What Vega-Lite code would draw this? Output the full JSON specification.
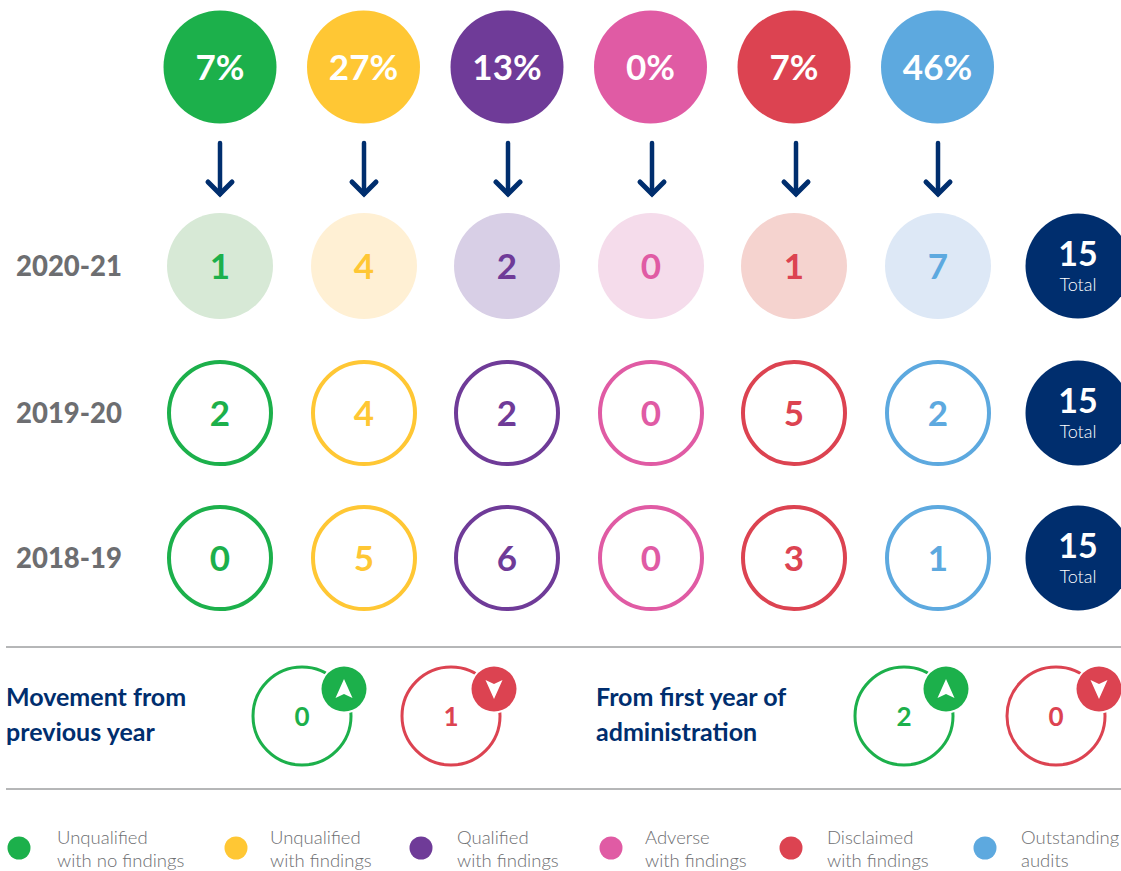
{"$schema":"https://vega.github.io/schema/vega-lite/v6.json","width":1121,"height":871,"padding":0,"autosize":{"type":"none"},"background":"white","config":{"view":{"stroke":null},"axis":{"disable":true},"legend":{"disable":true},"text":{"font":"Lato"}},"resolve":{"scale":{"x":"independent","y":"shared","color":"shared"}},
"datasets":{
"shares":[{"category":"Unqualified with no findings","column":1,"row":1,"label":"7%"},{"category":"Unqualified with findings","column":2,"row":1,"label":"27%"},{"category":"Qualified with findings","column":3,"row":1,"label":"13%"},{"category":"Adverse with findings","column":4,"row":1,"label":"0%"},{"category":"Disclaimed with findings","column":5,"row":1,"label":"7%"},{"category":"Outstanding audits","column":6,"row":1,"label":"46%"}],
"arrows":[{"column":1,"from":2,"to":3},{"column":2,"from":2,"to":3},{"column":3,"from":2,"to":3},{"column":4,"from":2,"to":3},{"column":5,"from":2,"to":3},{"column":6,"from":2,"to":3}],
"current":[{"period":"2020-21","category":"Unqualified with no findings","column":1,"row":4,"value":1},{"period":"2020-21","category":"Unqualified with findings","column":2,"row":4,"value":4},{"period":"2020-21","category":"Qualified with findings","column":3,"row":4,"value":2},{"period":"2020-21","category":"Adverse with findings","column":4,"row":4,"value":0},{"period":"2020-21","category":"Disclaimed with findings","column":5,"row":4,"value":1},{"period":"2020-21","category":"Outstanding audits","column":6,"row":4,"value":7}],
"past":[{"period":"2019-20","category":"Unqualified with no findings","column":1,"row":5,"value":2},{"period":"2019-20","category":"Unqualified with findings","column":2,"row":5,"value":4},{"period":"2019-20","category":"Qualified with findings","column":3,"row":5,"value":2},{"period":"2019-20","category":"Adverse with findings","column":4,"row":5,"value":0},{"period":"2019-20","category":"Disclaimed with findings","column":5,"row":5,"value":5},{"period":"2019-20","category":"Outstanding audits","column":6,"row":5,"value":2},{"period":"2018-19","category":"Unqualified with no findings","column":1,"row":6,"value":0},{"period":"2018-19","category":"Unqualified with findings","column":2,"row":6,"value":5},{"period":"2018-19","category":"Qualified with findings","column":3,"row":6,"value":6},{"period":"2018-19","category":"Adverse with findings","column":4,"row":6,"value":0},{"period":"2018-19","category":"Disclaimed with findings","column":5,"row":6,"value":3},{"period":"2018-19","category":"Outstanding audits","column":6,"row":6,"value":1}],
"totals":[{"period":"2020-21","column":7,"row":4,"value":15,"caption":"Total"},{"period":"2019-20","column":7,"row":5,"value":15,"caption":"Total"},{"period":"2018-19","column":7,"row":6,"value":15,"caption":"Total"}],
"dividers":[{"row":7},{"row":10}],
"sections":[{"slot":1,"row":9,"label":"Movement from\nprevious year"},{"slot":2,"row":9,"label":"From first year of\nadministration"}],
"movement":[{"slot":1,"row":9,"badgeRow":8,"category":"Improved","direction":"up","value":0},{"slot":2,"row":9,"badgeRow":8,"category":"Regressed","direction":"down","value":1},{"slot":3,"row":9,"badgeRow":8,"category":"Improved","direction":"up","value":2},{"slot":4,"row":9,"badgeRow":8,"category":"Regressed","direction":"down","value":0}],
"legend":[{"slot":1,"row":11,"category":"Unqualified with no findings","label":"Unqualified\nwith no findings"},{"slot":2,"row":11,"category":"Unqualified with findings","label":"Unqualified\nwith findings"},{"slot":3,"row":11,"category":"Qualified with findings","label":"Qualified\nwith findings"},{"slot":4,"row":11,"category":"Adverse with findings","label":"Adverse\nwith findings"},{"slot":5,"row":11,"category":"Disclaimed with findings","label":"Disclaimed\nwith findings"},{"slot":6,"row":11,"category":"Outstanding audits","label":"Outstanding\naudits"}]
},
"layer":[
{"data":{"name":"shares"},"mark":{"type":"point","filled":true,"opacity":1,"shape":"circle","size":12769},"encoding":{"x":{"field":"column","type":"quantitative","scale":{"domain":[1,2,3,4,5,6,7],"range":[220,363.5,507,650.5,794,937.5,1078]}},"y":{"field":"row","type":"quantitative","scale":{"domain":[1,2,3,4,5,6,7,8,9,10,11],"range":[67,143,194,266,413,558,647,689,716,789,848]}},"color":{"field":"category","type":"nominal","scale":{"domain":["Unqualified with no findings","Unqualified with findings","Qualified with findings","Adverse with findings","Disclaimed with findings","Outstanding audits","Improved","Regressed"],"range":["#1CB04B","#FFC734","#6F3B98","#E05BA4","#DC4351","#5DA9DF","#1CB04B","#DC4351"]}}}},
{"data":{"name":"shares"},"mark":{"type":"text","font":"Lato","fontWeight":"bold","fontSize":35,"fill":"white","baseline":"middle","dy":2},"encoding":{"x":{"field":"column","type":"quantitative","scale":{"domain":[1,2,3,4,5,6,7],"range":[220,363.5,507,650.5,794,937.5,1078]}},"y":{"field":"row","type":"quantitative"},"text":{"field":"label"}}},
{"data":{"name":"arrows"},"mark":{"type":"rule","stroke":"#002E6E","strokeWidth":4.5,"strokeCap":"round"},"encoding":{"x":{"field":"column","type":"quantitative","scale":{"domain":[1,2,3,4,5,6],"range":[220,364,508,652,796,938]}},"y":{"field":"from","type":"quantitative"},"y2":{"field":"to"}}},
{"data":{"name":"arrows"},"mark":{"type":"point","filled":false,"opacity":1,"stroke":"#002E6E","strokeWidth":5,"strokeJoin":"miter","strokeCap":"round","shape":"M-1,-1L0,0L1,-1","size":576},"encoding":{"x":{"field":"column","type":"quantitative","scale":{"domain":[1,2,3,4,5,6],"range":[220,364,508,652,796,938]}},"y":{"field":"to","type":"quantitative"}}},
{"data":{"name":"current"},"mark":{"type":"point","filled":true,"opacity":1,"shape":"circle","size":11236},"encoding":{"x":{"field":"column","type":"quantitative","scale":{"domain":[1,2,3,4,5,6,7],"range":[220,364,507,651,794,938,1078]}},"y":{"field":"row","type":"quantitative"},"fill":{"field":"category","type":"nominal","scale":{"domain":["Unqualified with no findings","Unqualified with findings","Qualified with findings","Adverse with findings","Disclaimed with findings","Outstanding audits"],"range":["#D7E9D6","#FFF0D4","#D8CFE6","#F5DCEB","#F5D3CF","#DDE8F6"]}}}},
{"data":{"name":"past"},"mark":{"type":"point","filled":false,"fill":"white","opacity":1,"strokeWidth":4,"shape":"circle","size":10404},"encoding":{"x":{"field":"column","type":"quantitative","scale":{"domain":[1,2,3,4,5,6,7],"range":[220,364,507,651,794,938,1078]}},"y":{"field":"row","type":"quantitative"},"color":{"field":"category","type":"nominal"}}},
{"data":{"name":"current"},"mark":{"type":"text","font":"Lato","fontWeight":"bold","fontSize":35,"baseline":"middle","dy":2},"encoding":{"x":{"field":"column","type":"quantitative","scale":{"domain":[1,2,3,4,5,6,7],"range":[220,364,507,651,794,938,1078]}},"y":{"field":"row","type":"quantitative"},"color":{"field":"category","type":"nominal"},"text":{"field":"value"}}},
{"data":{"name":"past"},"mark":{"type":"text","font":"Lato","fontWeight":"bold","fontSize":35,"baseline":"middle","dy":2},"encoding":{"x":{"field":"column","type":"quantitative","scale":{"domain":[1,2,3,4,5,6,7],"range":[220,364,507,651,794,938,1078]}},"y":{"field":"row","type":"quantitative"},"color":{"field":"category","type":"nominal"},"text":{"field":"value"}}},
{"data":{"name":"current"},"transform":[{"aggregate":[{"op":"min","field":"row","as":"row"}],"groupby":["period"]}],"mark":{"type":"text","font":"Lato","fontWeight":900,"fontSize":27.5,"fill":"#6D6E71","align":"left","baseline":"middle","dy":2},"encoding":{"x":{"datum":0,"type":"quantitative","scale":{"domain":[0,1],"range":[16,17]}},"y":{"field":"row","type":"quantitative"},"text":{"field":"period"}}},
{"data":{"name":"past"},"transform":[{"aggregate":[{"op":"min","field":"row","as":"row"}],"groupby":["period"]}],"mark":{"type":"text","font":"Lato","fontWeight":900,"fontSize":27.5,"fill":"#6D6E71","align":"left","baseline":"middle","dy":2},"encoding":{"x":{"datum":0,"type":"quantitative","scale":{"domain":[0,1],"range":[16,17]}},"y":{"field":"row","type":"quantitative"},"text":{"field":"period"}}},
{"data":{"name":"totals"},"mark":{"type":"point","filled":true,"opacity":1,"fill":"#002E6E","shape":"circle","size":11025},"encoding":{"x":{"field":"column","type":"quantitative","scale":{"domain":[1,7],"range":[220,1078]}},"y":{"field":"row","type":"quantitative"}}},
{"data":{"name":"totals"},"mark":{"type":"text","font":"Lato","fontWeight":"bold","fontSize":34,"fill":"white","baseline":"middle","dy":-10},"encoding":{"x":{"field":"column","type":"quantitative","scale":{"domain":[1,7],"range":[220,1078]}},"y":{"field":"row","type":"quantitative"},"text":{"field":"value"}}},
{"data":{"name":"totals"},"mark":{"type":"text","font":"Lato","fontWeight":300,"fontSize":18,"fill":"white","baseline":"middle","dy":20},"encoding":{"x":{"field":"column","type":"quantitative","scale":{"domain":[1,7],"range":[220,1078]}},"y":{"field":"row","type":"quantitative"},"text":{"field":"caption"}}},
{"data":{"name":"dividers"},"mark":{"type":"rule","stroke":"#6D6E71","strokeWidth":1},"encoding":{"x":{"datum":0,"type":"quantitative","scale":{"domain":[0,1],"range":[6,1121]}},"x2":{"datum":1},"y":{"field":"row","type":"quantitative"}}},
{"data":{"name":"sections"},"mark":{"type":"text","font":"Lato","fontWeight":"bold","fontSize":25,"fill":"#002E6E","align":"left","baseline":"middle","lineBreak":"\n","lineHeight":35,"dy":-18},"encoding":{"x":{"field":"slot","type":"quantitative","scale":{"domain":[1,2],"range":[6,596]}},"y":{"field":"row","type":"quantitative"},"text":{"field":"label"}}},
{"data":{"name":"movement"},"mark":{"type":"point","filled":false,"opacity":1,"strokeWidth":3,"shape":"circle","size":9604},"encoding":{"x":{"field":"slot","type":"quantitative","scale":{"domain":[1,2,3,4],"range":[302,451,904,1056]}},"y":{"field":"row","type":"quantitative"},"color":{"field":"category","type":"nominal"}}},
{"data":{"name":"movement"},"mark":{"type":"text","font":"Lato","fontWeight":"bold","fontSize":26,"baseline":"middle","dy":2},"encoding":{"x":{"field":"slot","type":"quantitative","scale":{"domain":[1,2,3,4],"range":[302,451,904,1056]}},"y":{"field":"row","type":"quantitative"},"color":{"field":"category","type":"nominal"},"text":{"field":"value"}}},
{"data":{"name":"movement"},"mark":{"type":"point","filled":false,"opacity":1,"fill":"white","stroke":"white","strokeWidth":3,"shape":"circle","size":2116},"encoding":{"x":{"field":"slot","type":"quantitative","scale":{"domain":[1,2,3,4],"range":[344,494,946,1099]}},"y":{"field":"badgeRow","type":"quantitative"}}},
{"data":{"name":"movement"},"mark":{"type":"point","filled":true,"opacity":1,"shape":"circle","size":2025},"encoding":{"x":{"field":"slot","type":"quantitative","scale":{"domain":[1,2,3,4],"range":[344,494,946,1099]}},"y":{"field":"badgeRow","type":"quantitative"},"color":{"field":"category","type":"nominal"}}},
{"data":{"name":"movement"},"mark":{"type":"point","filled":true,"opacity":1,"fill":"white","stroke":null,"size":400},"encoding":{"x":{"field":"slot","type":"quantitative","scale":{"domain":[1,2,3,4],"range":[344,494,946,1099]}},"y":{"field":"badgeRow","type":"quantitative"},"shape":{"field":"direction","type":"nominal","scale":{"domain":["up","down"],"range":["M0,-1L0.85,0.9L0,0.5L-0.85,0.9Z","M0,1L0.85,-0.9L0,-0.5L-0.85,-0.9Z"]}}}},
{"data":{"name":"legend"},"mark":{"type":"point","filled":true,"opacity":1,"shape":"circle","size":529},"encoding":{"x":{"field":"slot","type":"quantitative","scale":{"domain":[1,2,3,4,5,6],"range":[19,236,421,611,791,985]}},"y":{"field":"row","type":"quantitative"},"color":{"field":"category","type":"nominal"}}},
{"data":{"name":"legend"},"mark":{"type":"text","font":"Lato","fontWeight":300,"fontSize":18.5,"fill":"#6D6E71","align":"left","baseline":"middle","lineBreak":"\n","lineHeight":23,"dy":-10},"encoding":{"x":{"field":"slot","type":"quantitative","scale":{"domain":[1,2,3,4,5,6],"range":[57,270,457,645,827,1021]}},"y":{"field":"row","type":"quantitative"},"text":{"field":"label"}}}
]}
